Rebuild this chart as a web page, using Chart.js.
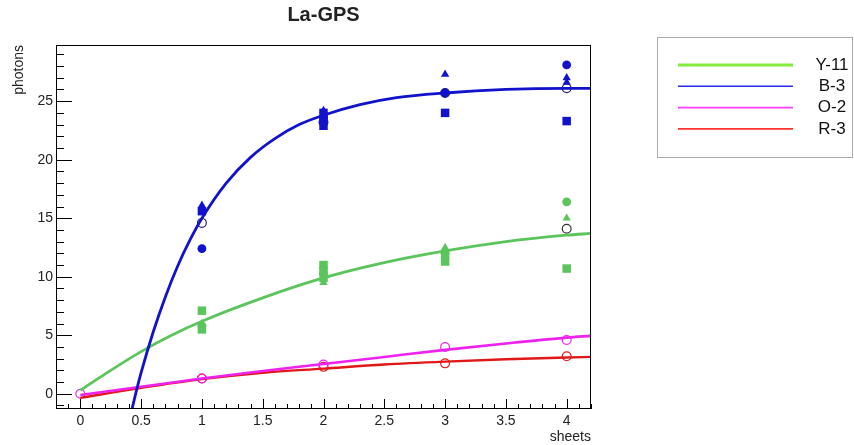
<!DOCTYPE html>
<html>
<head>
<meta charset="utf-8">
<title>La-GPS</title>
<script src="https://cdn.jsdelivr.net/npm/chart.js@4/dist/chart.umd.min.js"></script>
<style>
  html, body { margin: 0; padding: 0; background: #fff; }
</style>
</head>
<body>
<canvas id="laChart" width="854" height="445"></canvas>
<script>
// axis ticks
const xTickValues = [0, 0.5, 1, 1.5, 2, 2.5, 3, 3.5, 4];
const yTickValues = [0, 5, 10, 15, 20, 25];

// measured points (sheets, photons)
const blueSquareX = [1, 2, 2, 2, 3, 4];
const blueSquareY = [15.6, 24.0, 23.4, 22.9, 24.0, 23.3];
const blueTriX = [1, 2, 3, 4, 4];
const blueTriY = [16.1, 24.2, 27.3, 27.0, 26.6];
const blueDotX = [1, 2, 3, 4];
const blueDotY = [12.4, 23.6, 25.7, 28.1];
const blueRingX = [1, 2, 3, 4];
const blueRingY = [14.6, 23.2, 25.7, 26.1];

const greenSquareX = [1, 1, 2, 2, 2, 3, 3, 4];
const greenSquareY = [7.1, 5.5, 11.0, 10.5, 9.9, 11.9, 11.3, 10.7];
const greenTriX = [1, 2, 3, 4];
const greenTriY = [6.0, 9.5, 12.5, 15.0];
const greenDotX = [1, 2, 3, 4];
const greenDotY = [5.8, 10.3, 12.0, 16.4];
const greenRingX = [4];
const greenRingY = [14.1];

const pinkRingX = [0, 1, 2, 3, 4];
const pinkRingY = [0, 1.3, 2.5, 4.0, 4.6];
const redRingX = [1, 2, 3, 4];
const redRingY = [1.3, 2.3, 2.6, 3.2];

// fitted curves
const blueFitX = [0.425, 0.46, 0.5, 0.6, 0.7, 0.8, 0.9, 1.0, 1.2, 1.4, 1.6, 1.8, 2.0, 2.3, 2.6, 3.0, 3.5, 4.0, 4.2];
const blueFitY = [-1.3, 0.2, 1.8, 5.3, 8.3, 10.9, 13.1, 15.0, 18.0, 20.2, 21.8, 23.0, 23.8, 24.7, 25.3, 25.7, 26.0, 26.1, 26.1];
const greenFitX = [0, 0.25, 0.5, 0.75, 1, 1.5, 2, 2.5, 3, 3.5, 4, 4.2];
const greenFitY = [0.3, 2.0, 3.6, 5.0, 6.2, 8.2, 9.9, 11.2, 12.2, 13.0, 13.55, 13.7];
const pinkFitX = [0, 0.5, 1, 1.5, 2, 2.5, 3, 3.5, 4, 4.2];
const pinkFitY = [-0.1, 0.6, 1.3, 1.95, 2.55, 3.15, 3.75, 4.3, 4.8, 4.95];
const redFitX = [0, 0.5, 1, 1.5, 2, 2.5, 3, 3.5, 4, 4.2];
const redFitY = [-0.35, 0.5, 1.25, 1.8, 2.15, 2.5, 2.75, 2.95, 3.1, 3.15];

const legendLabels = ['Y-11', 'B-3', 'O-2', 'R-3'];
const legendColors = ['#84ec3c', '#2a2aee', '#ff40ff', '#ff3030'];

const BLUE = '#1212cc';
const GREEN = '#5cc45c';
const PINK = '#ee22ee';
const RED = '#e01818';
const FONT = '"Liberation Sans", Arial, sans-serif';

const pts = (xs, ys) => xs.map((x, i) => ({ x, y: ys[i] }));

function fitLine(xs, ys, color, width) {
    return {
        data: pts(xs, ys),
        showLine: true,
        borderColor: color,
        borderWidth: width,
        pointRadius: 0,
        cubicInterpolationMode: 'monotone',
        order: 0
    };
}

function markers(xs, ys, color, style, radius, open) {
    return {
        data: pts(xs, ys),
        showLine: false,
        pointStyle: style,
        pointRadius: radius,
        pointBorderWidth: open ? 1.2 : 0,
        pointBorderColor: color,
        pointBackgroundColor: open ? 'rgba(0,0,0,0)' : color,
        order: 1
    };
}

// ROOT-like frame with inner ticks, title, axis titles and legend box
const rootFrame = {
    id: 'rootFrame',
    afterDraw(chart) {
        const ctx = chart.ctx;
        const a = chart.chartArea;
        const xs = chart.scales.x;
        const ys = chart.scales.y;
        ctx.save();
        ctx.strokeStyle = '#000';
        ctx.lineWidth = 1;
        ctx.strokeRect(a.left + 0.5, a.top + 0.5, a.right - a.left - 1, a.bottom - a.top - 1);

        ctx.beginPath();
        for (let i = -2; i <= 42; i++) {
            const px = Math.round(xs.getPixelForValue(i / 10)) + 0.5;
            const len = i % 5 === 0 ? 10 : 5;
            ctx.moveTo(px, a.bottom);
            ctx.lineTo(px, a.bottom - len);
        }
        for (let v = -1; v <= 29; v++) {
            const py = Math.round(ys.getPixelForValue(v)) + 0.5;
            const len = v % 5 === 0 ? 16 : 8;
            ctx.moveTo(a.left, py);
            ctx.lineTo(a.left + len, py);
        }
        ctx.stroke();

        ctx.fillStyle = '#222';
        ctx.font = 'bold 20px ' + FONT;
        ctx.textAlign = 'center';
        ctx.textBaseline = 'middle';
        ctx.fillText('La-GPS', (a.left + a.right) / 2, 15);

        ctx.font = '14px ' + FONT;
        ctx.textAlign = 'right';
        ctx.fillText('sheets', a.right, 437);

        ctx.save();
        ctx.translate(19, a.top);
        ctx.rotate(-Math.PI / 2);
        ctx.textAlign = 'right';
        ctx.fillText('photons', 0, 0);
        ctx.restore();

        // legend
        ctx.fillStyle = '#fff';
        ctx.fillRect(657, 37, 196, 121);
        ctx.strokeStyle = '#aaa';
        ctx.strokeRect(657.5, 37.5, 195, 120);
        ctx.font = '17px ' + FONT;
        ctx.textAlign = 'center';
        legendLabels.forEach((lab, i) => {
            const y = 65 + i * 21.3;
            ctx.strokeStyle = legendColors[i];
            ctx.lineWidth = i === 0 ? 3 : 1.6;
            ctx.beginPath();
            ctx.moveTo(678, y);
            ctx.lineTo(793, y);
            ctx.stroke();
            ctx.fillStyle = '#111';
            ctx.fillText(lab, 832, y);
        });
        ctx.restore();
    }
};

const datasets = [
    fitLine(blueFitX, blueFitY, BLUE, 2.8),
    fitLine(pinkFitX, pinkFitY, PINK, 2.6),
    fitLine(redFitX, redFitY, RED, 2.4),
    fitLine(greenFitX, greenFitY, GREEN, 2.8),
    markers(blueSquareX, blueSquareY, BLUE, 'rect', 6, false),
    markers(blueTriX, blueTriY, BLUE, 'triangle', 4.8, false),
    markers(blueDotX, blueDotY, BLUE, 'circle', 4.4, false),
    markers(blueRingX, blueRingY, '#22226a', 'circle', 4.4, true),
    markers(greenSquareX, greenSquareY, GREEN, 'rect', 6, false),
    markers(greenTriX, greenTriY, GREEN, 'triangle', 4.8, false),
    markers(greenDotX, greenDotY, GREEN, 'circle', 4.4, false),
    markers(greenRingX, greenRingY, '#333', 'circle', 4.4, true),
    markers(pinkRingX, pinkRingY, PINK, 'circle', 4.4, true),
    markers(redRingX, redRingY, RED, 'circle', 4.4, true)
];

new Chart(document.getElementById('laChart'), {
    type: 'scatter',
    data: { datasets },
    options: {
        responsive: false,
        animation: false,
        layout: { padding: { top: 45, right: 263, left: 0, bottom: 0 } },
        plugins: {
            legend: { display: false },
            tooltip: { enabled: false }
        },
        scales: {
            x: {
                type: 'linear',
                min: -0.2,
                max: 4.2,
                grid: { display: false, drawTicks: false },
                border: { display: false },
                ticks: { padding: 4, color: '#222', font: { family: FONT, size: 14 }, callback: v => String(v) },
                afterBuildTicks: s => { s.ticks = xTickValues.map(v => ({ value: v })); },
                afterFit: s => { s.height = 36; }
            },
            y: {
                type: 'linear',
                min: -1.3,
                max: 29.8,
                grid: { display: false, drawTicks: false },
                border: { display: false },
                ticks: { padding: 3, color: '#222', font: { family: FONT, size: 14 }, callback: v => String(v) },
                afterBuildTicks: s => { s.ticks = yTickValues.map(v => ({ value: v })); },
                afterFit: s => { s.width = 56; }
            }
        }
    },
    plugins: [rootFrame]
});
</script>
</body>
</html>
